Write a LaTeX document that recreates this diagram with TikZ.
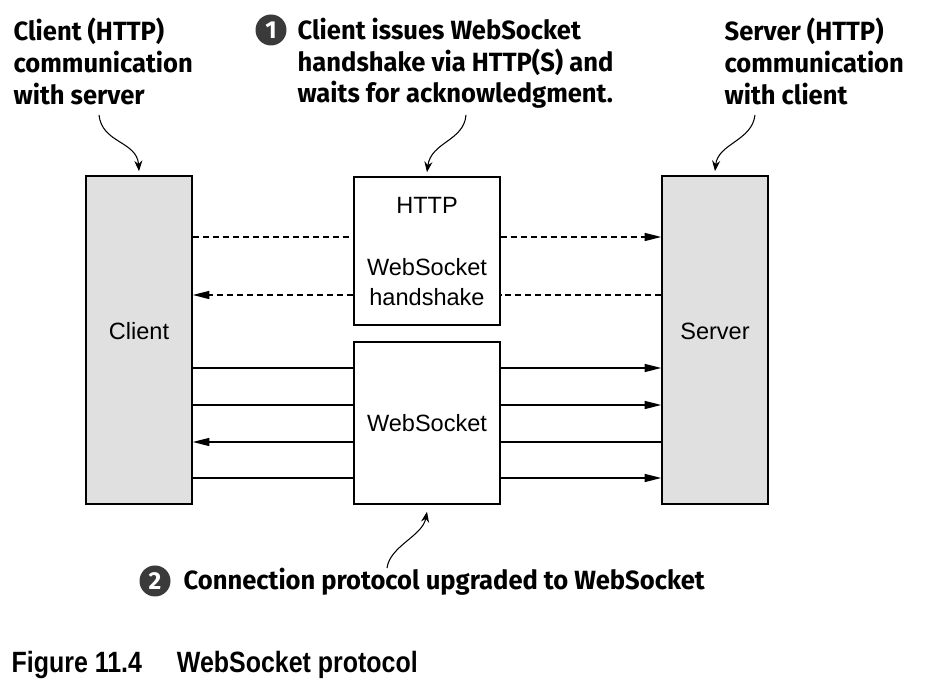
\documentclass[tikz,border=0pt]{standalone}
\usepackage{fontspec}
\setmainfont{Liberation Sans}
\newfontfamily\annofont{Fira Sans}[FakeStretch=0.97]
\newfontfamily\bubfont{Fira Sans}
\newfontfamily\capfont{Liberation Sans}[FakeStretch=0.85]
\usetikzlibrary{arrows.meta}
\definecolor{boxgray}{RGB}{224,224,224}
\definecolor{bubgray}{RGB}{58,58,58}

\begin{document}
\begin{tikzpicture}[line width=0.75pt,>={Stealth[length=6pt,width=4.6pt]},
  side/.style={draw,fill=boxgray,line width=0.85pt,minimum width=2.12cm,minimum height=6.56cm,inner sep=0pt},
  mid/.style={draw,fill=white,line width=0.85pt,minimum width=2.92cm,inner sep=0pt},
  body/.style={font=\fontsize{13.4}{17}\selectfont},
  msg/.style={-{Triangle[length=9.5pt,width=4.6pt]}},
  hs/.style={dash pattern=on 3.4pt off 2.3pt},
  anno/.style={font=\annofont\bfseries\fontsize{15}{18.2}\selectfont,align=left,inner sep=0pt},
  bub/.style={circle,fill=bubgray,text=white,inner sep=0pt,minimum size=0.62cm,font=\bubfont\bfseries\fontsize{14}{14}\selectfont},
  cur/.style={->,line width=0.6pt}]
\useasboundingbox (0,0) rectangle (18.52,13.92);
% ================ 三列方框 ================
\node[side] (client) at (2.78,7.12) {};
\node[body] (clientlbl) at (2.78,7.30) {Client};
\node[side] (server) at (14.30,7.12) {};
\node[body] (serverlbl) at (14.30,7.30) {Server};
\node[mid,minimum height=2.96cm] (http) at (8.54,8.90) {};
\node[body] (httplbl) at (8.54,9.82) {HTTP};
\node[body,align=center] (hslbl) at (8.54,8.28) {WebSocket\\handshake};
\node[mid,minimum height=3.24cm,body] (ws) at (8.54,5.46) {WebSocket};
% 各行高度
\coordinate (r1) at (0,9.18);
\coordinate (r2) at (0,8.02);
\coordinate (r3) at (0,6.56);
\coordinate (r4) at (0,5.82);
\coordinate (r5) at (0,5.08);
\coordinate (r6) at (0,4.36);
% 握手（虚线）
\draw[hs] (client.east |- r1) -- (http.west |- r1);
\draw[hs,msg] (http.east |- r1) -- (server.west |- r1);
\draw[hs] (server.west |- r2) -- (http.east |- r2);
\draw[hs,msg] (http.west |- r2) -- (client.east |- r2);
% WebSocket 消息（实线）
\foreach \r in {r3,r4,r6}{
  \draw (client.east |- \r) -- (ws.west |- \r);
  \draw[msg] (ws.east |- \r) -- (server.west |- \r);}
\draw (server.west |- r5) -- (ws.east |- r5);
\draw[msg] (ws.west |- r5) -- (client.east |- r5);
% ================ 注释 ================
\node[anno,anchor=north west] (clientnote) at (0.26,13.58) {Client (HTTP)\\communication\\with server};
\node[bub] (b1) at (5.42,13.32) {1};
\node[anno,anchor=north west] (hsnote) at (5.94,13.58) {Client issues WebSocket\\handshake via HTTP(S) and\\waits for acknowledgment.};
\node[anno,anchor=north west] (servernote) at (14.48,13.58) {Server (HTTP)\\communication\\with client};
\node[bub] (b2) at (3.10,2.30) {2};
\node[anno,anchor=base west] (upnote) at (3.66,2.12) {Connection protocol upgraded to WebSocket};
\coordinate (c1) at (1.98,11.62);
\coordinate (c2) at (9.32,11.62);
\coordinate (c3) at (15.10,11.62);
\coordinate (c4) at (7.74,2.56);
\draw[cur] (c1) .. controls (2.04,11.05) and (2.74,11.10) .. ([yshift=2.3pt]client.north);
\draw[cur] (c2) .. controls (9.28,11.10) and (8.62,11.08) .. ([yshift=2.3pt]http.north);
\draw[cur] (c3) .. controls (15.04,11.10) and (14.36,11.05) .. ([yshift=2.3pt]server.north);
\draw[cur] (c4) .. controls (7.80,3.00) and (8.45,3.20) .. ([yshift=-4pt]ws.south);
% 图题
\node[anchor=base west,inner sep=0pt,font=\capfont\bfseries\fontsize{16.7}{20}\selectfont] (caption) at (0.22,0.46) {Figure 11.4\hspace{0.7cm}WebSocket protocol};
\end{tikzpicture}
\end{document}
